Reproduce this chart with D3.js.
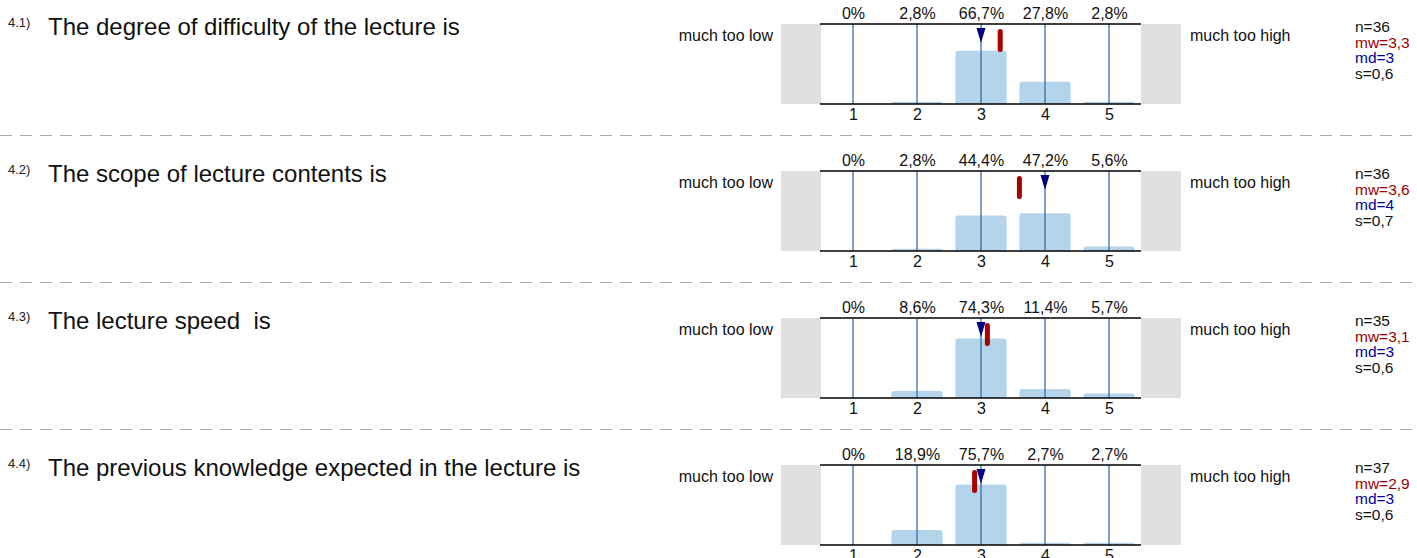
<!DOCTYPE html>
<html>
<head>
<meta charset="utf-8">
<script src="https://cdn.jsdelivr.net/npm/d3@7"></script>
<style>
  html, body { margin: 0; padding: 0; background: #fff; }
  svg { display: block; }
  text { font-family: "Liberation Sans", Arial, sans-serif; }
</style>
</head>
<body>
<svg id="chart" width="1417" height="558"></svg>
<script>
// ---- data ----
const categories = [1, 2, 3, 4, 5];
const questionIds = ["4.1)", "4.2)", "4.3)", "4.4)"];
const questionTexts = [
  "The degree of difficulty of the lecture is",
  "The scope of lecture contents is",
  "The lecture speed  is",
  "The previous knowledge expected in the lecture is"
];
const percentages = [
  [0, 2.8, 66.7, 27.8, 2.8],
  [0, 2.8, 44.4, 47.2, 5.6],
  [0, 8.6, 74.3, 11.4, 5.7],
  [0, 18.9, 75.7, 2.7, 2.7]
];
const nValues = [36, 36, 35, 37];
const means = [3.3, 3.6, 3.1, 2.9];
const medians = [3, 4, 3, 3];
const stdDevs = [0.6, 0.7, 0.6, 0.6];
const leftLabel = "much too low";
const rightLabel = "much too high";

// ---- layout ----
const svg = d3.select("#chart");
const W = 1417;
const panelStep = 147;
const firstTop = 24;
const boxH = 80;
const frameX0 = 821, frameX1 = 1141;
const grayW = 40;

const x = d3.scaleLinear().domain([0.5, 5.5]).range([frameX0, frameX1]);
const y = d3.scaleLinear().domain([0, 100]).range([boxH, 0]);
const bandW = x(2) - x(1);
const barW = bandW * 0.8;
const fmt = v => v === 0 ? "0%" : d3.format(".1f")(v).replace(".", ",") + "%";
const fmt1 = v => d3.format(".1f")(v).replace(".", ",");

function topRoundedRect(x0, y0, w, h, r) {
  r = Math.min(r, h, w / 2);
  return `M${x0},${y0 + h}V${y0 + r}Q${x0},${y0} ${x0 + r},${y0}H${x0 + w - r}Q${x0 + w},${y0} ${x0 + w},${y0 + r}V${y0 + h}Z`;
}

questionTexts.forEach((q, i) => {
  const top = firstTop + panelStep * i;
  const g = svg.append("g").attr("transform", `translate(0,${top})`);

  // question number + text
  g.append("text").attr("x", 8).attr("y", 2.5)
    .attr("font-size", 13).attr("fill", "#222").text(questionIds[i]);
  g.append("text").attr("x", 48).attr("y", 11)
    .attr("font-size", 24).attr("fill", "#111")
    .style("white-space", "pre").attr("xml:space", "preserve").text(q);

  // side labels
  g.append("text").attr("x", 773).attr("y", 16.5).attr("text-anchor", "end")
    .attr("font-size", 16).attr("fill", "#111").text(leftLabel);
  g.append("text").attr("x", 1190).attr("y", 16.5)
    .attr("font-size", 16).attr("fill", "#111").text(rightLabel);

  // gray side boxes
  g.append("rect").attr("x", frameX0 - grayW).attr("y", 0)
    .attr("width", grayW).attr("height", boxH).attr("fill", "#e0e0e0");
  g.append("rect").attr("x", frameX1).attr("y", 0)
    .attr("width", grayW).attr("height", boxH).attr("fill", "#e0e0e0");

  // bars
  g.selectAll("path.bar").data(percentages[i]).enter().append("path")
    .attr("class", "bar")
    .attr("d", (d, j) => {
      const h = boxH - y(d);
      if (h <= 0) return null;
      return topRoundedRect(x(categories[j]) - barW / 2, y(d), barW, h, 3);
    })
    .attr("fill", "#b4d4eb");

  // gridlines
  g.selectAll("line.grid").data(categories).enter().append("line")
    .attr("class", "grid")
    .attr("x1", d => x(d)).attr("x2", d => x(d))
    .attr("y1", 0).attr("y2", boxH)
    .attr("stroke", "#2e6399").attr("stroke-width", 1.2);

  // frame lines (top, bottom)
  g.append("line").attr("x1", frameX0 - 1).attr("x2", frameX1).attr("y1", 0).attr("y2", 0)
    .attr("stroke", "#000").attr("stroke-width", 1.5);
  g.append("line").attr("x1", frameX0 - 1).attr("x2", frameX1).attr("y1", boxH).attr("y2", boxH)
    .attr("stroke", "#000").attr("stroke-width", 1.5);

  // percentage labels on top
  const topAxis = d3.axisTop(x).tickValues(categories)
    .tickFormat((d, j) => fmt(percentages[i][j])).tickSize(0).tickPadding(5);
  const ta = g.append("g").call(topAxis);
  ta.select(".domain").remove();
  ta.selectAll("text").attr("font-size", 16).attr("fill", "#111")
    .attr("font-family", "'Liberation Sans', Arial, sans-serif");

  // category tick labels at bottom
  const botAxis = d3.axisBottom(x).tickValues(categories)
    .tickFormat(d3.format("d")).tickSize(0).tickPadding(5);
  const ba = g.append("g").attr("transform", `translate(0,${boxH})`).call(botAxis);
  ba.select(".domain").remove();
  ba.selectAll("text").attr("font-size", 16).attr("fill", "#111")
    .attr("font-family", "'Liberation Sans', Arial, sans-serif");

  // mean marker (red rounded bar)
  g.append("line").attr("x1", x(means[i])).attr("x2", x(means[i]))
    .attr("y1", 7.5).attr("y2", 25.5)
    .attr("stroke", "#aa0000").attr("stroke-width", 5).attr("stroke-linecap", "round");

  // median marker (navy triangle)
  const mx = x(medians[i]);
  g.append("path").attr("d", `M${mx - 4.5},4L${mx + 4.5},4L${mx},19Z`).attr("fill", "#000080");

  // stats
  const stats = [
    { t: "n=" + nValues[i], c: "#111" },
    { t: "mw=" + fmt1(means[i]), c: "#990000" },
    { t: "md=" + medians[i], c: "#000099" },
    { t: "s=" + fmt1(stdDevs[i]), c: "#111" }
  ];
  g.selectAll("text.stat").data(stats).enter().append("text")
    .attr("class", "stat")
    .attr("x", 1355).attr("y", (d, j) => 8 + j * 15.7)
    .attr("font-size", 15.5).attr("fill", d => d.c).text(d => d.t);

  // dashed separator
  if (i < questionTexts.length - 1) {
    g.append("line").attr("x1", 0).attr("x2", W).attr("y1", 111.5).attr("y2", 111.5)
      .attr("stroke", "#aaaaaa").attr("stroke-width", 1).attr("stroke-dasharray", "12,8");
  }
});
</script>
</body>
</html>
